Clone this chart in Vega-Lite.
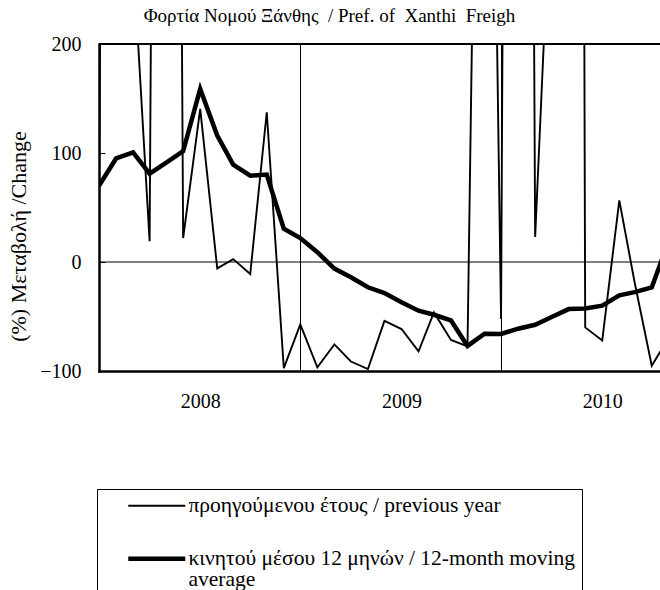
{
  "$schema": "https://vega.github.io/schema/vega-lite/v6.json",
  "autosize": {"type": "none"},
  "width": 561,
  "height": 327,
  "padding": {"left": 99, "top": 44, "right": 0, "bottom": 219},
  "background": "white",
  "config": {"view": {"stroke": null}, "font": "Liberation Serif"},
  "title": {
    "text": "Φορτία Νομού Ξάνθης \u00a0/ Pref. of \u00a0Xanthi \u00a0Freigh",
    "font": "Liberation Serif", "fontSize": 19, "fontWeight": "normal", "color": "black",
    "anchor": "middle", "dx": -50, "dy": 8, "baseline": "alphabetic", "offset": 1
  },
  "datasets": {
    "series": [
      {"date": "2007-07-01", "series": "προηγούμενου έτους / previous year", "value": 69},
      {"date": "2007-08-01", "series": "προηγούμενου έτους / previous year", "value": 2250},
      {"date": "2007-09-01", "series": "προηγούμενου έτους / previous year", "value": 280},
      {"date": "2007-10-01", "series": "προηγούμενου έτους / previous year", "value": 19},
      {"date": "2007-11-01", "series": "προηγούμενου έτους / previous year", "value": 2500},
      {"date": "2007-12-01", "series": "προηγούμενου έτους / previous year", "value": 22},
      {"date": "2008-01-01", "series": "προηγούμενου έτους / previous year", "value": 140.5},
      {"date": "2008-02-01", "series": "προηγούμενου έτους / previous year", "value": -5.9},
      {"date": "2008-03-01", "series": "προηγούμενου έτους / previous year", "value": 2.7},
      {"date": "2008-04-01", "series": "προηγούμενου έτους / previous year", "value": -11},
      {"date": "2008-05-01", "series": "προηγούμενου έτους / previous year", "value": 137.4},
      {"date": "2008-06-01", "series": "προηγούμενου έτους / previous year", "value": -97.4},
      {"date": "2008-07-01", "series": "προηγούμενου έτους / previous year", "value": -57.3},
      {"date": "2008-08-01", "series": "προηγούμενου έτους / previous year", "value": -96.7},
      {"date": "2008-09-01", "series": "προηγούμενου έτους / previous year", "value": -75.6},
      {"date": "2008-10-01", "series": "προηγούμενου έτους / previous year", "value": -91.3},
      {"date": "2008-11-01", "series": "προηγούμενου έτους / previous year", "value": -98.2},
      {"date": "2008-12-01", "series": "προηγούμενου έτους / previous year", "value": -54},
      {"date": "2009-01-01", "series": "προηγούμενου έτους / previous year", "value": -61.5},
      {"date": "2009-02-01", "series": "προηγούμενου έτους / previous year", "value": -82},
      {"date": "2009-03-01", "series": "προηγούμενου έτους / previous year", "value": -46.3},
      {"date": "2009-04-01", "series": "προηγούμενου έτους / previous year", "value": -71.5},
      {"date": "2009-05-01", "series": "προηγούμενου έτους / previous year", "value": -77.5},
      {"date": "2009-06-01", "series": "προηγούμενου έτους / previous year", "value": 1000},
      {"date": "2009-07-01", "series": "προηγούμενου έτους / previous year", "value": -52.3},
      {"date": "2009-08-01", "series": "προηγούμενου έτους / previous year", "value": 3000},
      {"date": "2009-09-01", "series": "προηγούμενου έτους / previous year", "value": 23},
      {"date": "2009-10-01", "series": "προηγούμενου έτους / previous year", "value": 363},
      {"date": "2009-11-01", "series": "προηγούμενου έτους / previous year", "value": 5000},
      {"date": "2009-12-01", "series": "προηγούμενου έτους / previous year", "value": -60},
      {"date": "2010-01-01", "series": "προηγούμενου έτους / previous year", "value": -72},
      {"date": "2010-02-01", "series": "προηγούμενου έτους / previous year", "value": 56.6},
      {"date": "2010-03-01", "series": "προηγούμενου έτους / previous year", "value": -19},
      {"date": "2010-04-01", "series": "προηγούμενου έτους / previous year", "value": -95.2},
      {"date": "2010-05-01", "series": "προηγούμενου έτους / previous year", "value": -70},
      {"date": "2007-07-01", "series": "κινητού μέσου 12 μηνών / 12-month moving average", "value": 70},
      {"date": "2007-08-01", "series": "κινητού μέσου 12 μηνών / 12-month moving average", "value": 95},
      {"date": "2007-09-01", "series": "κινητού μέσου 12 μηνών / 12-month moving average", "value": 100.6},
      {"date": "2007-10-01", "series": "κινητού μέσου 12 μηνών / 12-month moving average", "value": 81},
      {"date": "2007-11-01", "series": "κινητού μέσου 12 μηνών / 12-month moving average", "value": 91.5},
      {"date": "2007-12-01", "series": "κινητού μέσου 12 μηνών / 12-month moving average", "value": 101.8},
      {"date": "2008-01-01", "series": "κινητού μέσου 12 μηνών / 12-month moving average", "value": 158.8},
      {"date": "2008-02-01", "series": "κινητού μέσου 12 μηνών / 12-month moving average", "value": 116},
      {"date": "2008-03-01", "series": "κινητού μέσου 12 μηνών / 12-month moving average", "value": 89.3},
      {"date": "2008-04-01", "series": "κινητού μέσου 12 μηνών / 12-month moving average", "value": 79.2},
      {"date": "2008-05-01", "series": "κινητού μέσου 12 μηνών / 12-month moving average", "value": 80.2},
      {"date": "2008-06-01", "series": "κινητού μέσου 12 μηνών / 12-month moving average", "value": 30.6},
      {"date": "2008-07-01", "series": "κινητού μέσου 12 μηνών / 12-month moving average", "value": 22},
      {"date": "2008-08-01", "series": "κινητού μέσου 12 μηνών / 12-month moving average", "value": 9},
      {"date": "2008-09-01", "series": "κινητού μέσου 12 μηνών / 12-month moving average", "value": -6},
      {"date": "2008-10-01", "series": "κινητού μέσου 12 μηνών / 12-month moving average", "value": -14},
      {"date": "2008-11-01", "series": "κινητού μέσου 12 μηνών / 12-month moving average", "value": -23.2},
      {"date": "2008-12-01", "series": "κινητού μέσου 12 μηνών / 12-month moving average", "value": -28.5},
      {"date": "2009-01-01", "series": "κινητού μέσου 12 μηνών / 12-month moving average", "value": -37},
      {"date": "2009-02-01", "series": "κινητού μέσου 12 μηνών / 12-month moving average", "value": -44.7},
      {"date": "2009-03-01", "series": "κινητού μέσου 12 μηνών / 12-month moving average", "value": -48.4},
      {"date": "2009-04-01", "series": "κινητού μέσου 12 μηνών / 12-month moving average", "value": -53.6},
      {"date": "2009-05-01", "series": "κινητού μέσου 12 μηνών / 12-month moving average", "value": -77},
      {"date": "2009-06-01", "series": "κινητού μέσου 12 μηνών / 12-month moving average", "value": -65.8},
      {"date": "2009-07-01", "series": "κινητού μέσου 12 μηνών / 12-month moving average", "value": -66},
      {"date": "2009-08-01", "series": "κινητού μέσου 12 μηνών / 12-month moving average", "value": -61.2},
      {"date": "2009-09-01", "series": "κινητού μέσου 12 μηνών / 12-month moving average", "value": -57.6},
      {"date": "2009-10-01", "series": "κινητού μέσου 12 μηνών / 12-month moving average", "value": -50.5},
      {"date": "2009-11-01", "series": "κινητού μέσου 12 μηνών / 12-month moving average", "value": -43.2},
      {"date": "2009-12-01", "series": "κινητού μέσου 12 μηνών / 12-month moving average", "value": -42.6},
      {"date": "2010-01-01", "series": "κινητού μέσου 12 μηνών / 12-month moving average", "value": -40.1},
      {"date": "2010-02-01", "series": "κινητού μέσου 12 μηνών / 12-month moving average", "value": -30.6},
      {"date": "2010-03-01", "series": "κινητού μέσου 12 μηνών / 12-month moving average", "value": -27.6},
      {"date": "2010-04-01", "series": "κινητού μέσου 12 μηνών / 12-month moving average", "value": -23.3},
      {"date": "2010-05-01", "series": "κινητού μέσου 12 μηνών / 12-month moving average", "value": 18}
    ]
  },
  "layer": [
    {
      "data": {"name": "series"},
      "mark": {"type": "line", "clip": true, "color": "black", "strokeJoin": "miter"},
      "encoding": {
        "x": {
          "field": "date", "type": "temporal",
          "scale": {"type": "utc", "domain": [{"year": 2007, "month": 7, "date": 1, "utc": true}, {"year": 2010, "month": 4, "date": 16, "utc": true}]},
          "axis": {
            "title": null,
            "values": [
              {"year": 2008, "month": 1, "date": 1, "utc": true},
              {"year": 2008, "month": 7, "date": 1, "utc": true},
              {"year": 2009, "month": 1, "date": 1, "utc": true},
              {"year": 2009, "month": 7, "date": 1, "utc": true},
              {"year": 2010, "month": 1, "date": 1, "utc": true}
            ],
            "labelExpr": "utcmonth(datum.value) == 0 ? utcFormat(datum.value, '%Y') : ''",
            "ticks": false,
            "grid": true, "gridColor": "black", "gridWidth": 1,
            "gridOpacity": {"condition": {"test": "utcmonth(datum.value) == 6", "value": 1}, "value": 0},
            "domainColor": "black", "domainWidth": 2.5, "domainCap": "square",
            "labelFont": "Liberation Serif", "labelFontSize": 20, "labelColor": "black",
            "labelPadding": 20, "labelFlush": false, "labelOverlap": false
          }
        },
        "y": {
          "field": "value", "type": "quantitative",
          "scale": {"domain": [-100, 200], "nice": false, "zero": false},
          "axis": {
            "values": [-100, 0, 100, 200],
            "title": "(%) Μεταβολή /Change",
            "titleFont": "Liberation Serif", "titleFontSize": 22, "titleFontWeight": "normal", "titleColor": "black",
            "titleX": -69, "titleY": 192, "titleBaseline": "bottom", "titleAlign": "center", "titleAngle": -90,
            "ticks": true, "tickSize": -6, "tickColor": "black", "tickWidth": 1,
            "grid": false,
            "domainColor": "black", "domainWidth": 2.5, "domainCap": "square",
            "labelFont": "Liberation Serif", "labelFontSize": 20, "labelColor": "black",
            "labelPadding": 24, "labelFlush": false
          }
        },
        "strokeWidth": {
          "field": "series", "type": "ordinal",
          "scale": {"domain": ["προηγούμενου έτους / previous year", "κινητού μέσου 12 μηνών / 12-month moving average"], "range": [1.9, 4.5]},
          "legend": {
            "orient": "none", "legendX": -2, "legendY": 445, "title": null,
            "strokeColor": "black", "padding": 6,
            "symbolType": "M-5.7,0H5.7", "symbolSize": 100, "symbolStrokeColor": "black", "symbolFillColor": "transparent",
            "symbolOffset": 43, "labelOffset": 21,
            "labelFont": "Liberation Serif", "labelFontSize": 21.5, "labelColor": "black", "labelLimit": 1000,
            "rowPadding": 30,
            "labelExpr": "datum.label == 'κινητού μέσου 12 μηνών / 12-month moving average' ? ['κινητού μέσου 12 μηνών / 12-month moving', 'average', ' '] : datum.label",
            "encode": {
              "labels": {"update": {"lineHeight": {"value": 21}}}
            }
          }
        }
      }
    },
    {
      "data": {"values": [{}]},
      "mark": {"type": "rule", "color": "black", "strokeWidth": 1},
      "encoding": {"y": {"datum": 0}}
    },
    {
      "data": {"values": [{}]},
      "mark": {"type": "rule", "color": "black", "strokeWidth": 2.2},
      "encoding": {"y": {"datum": 200}}
    }
  ]
}
